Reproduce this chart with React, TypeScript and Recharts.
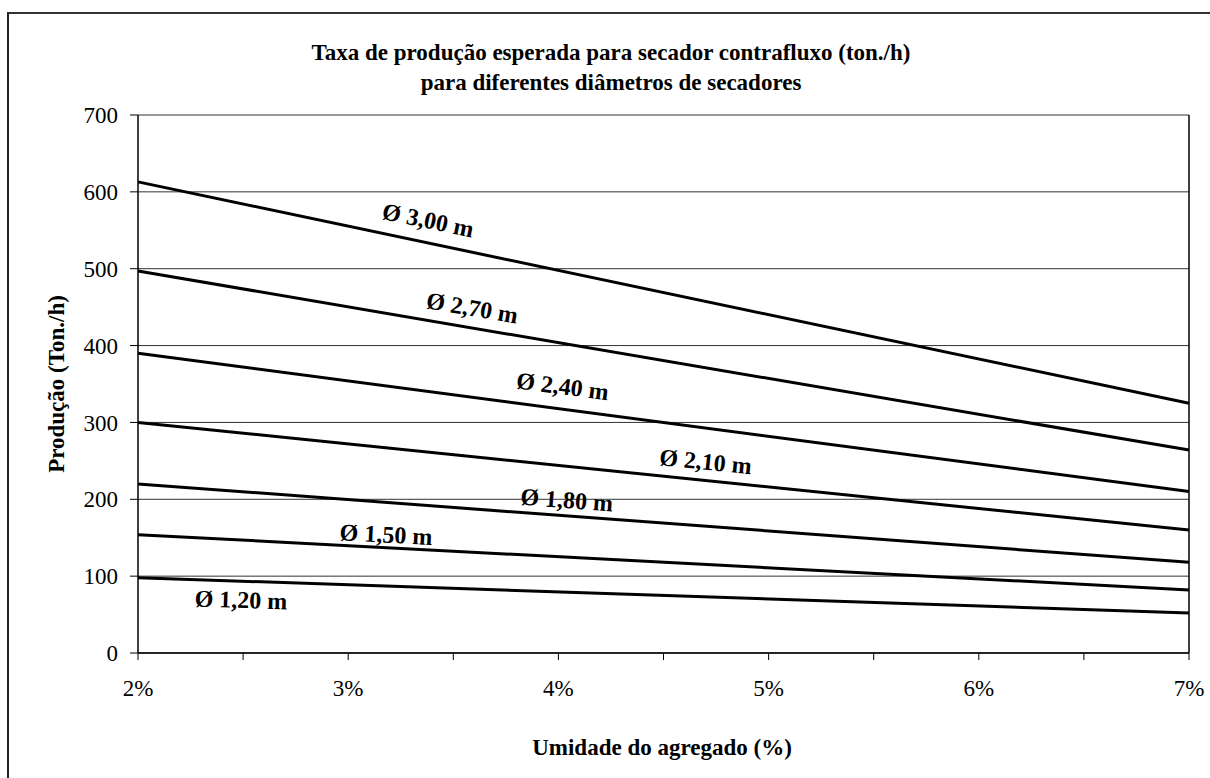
import { LineChart, Line, XAxis, YAxis, CartesianGrid, ReferenceLine, ReferenceDot } from "recharts";

// umidade do agregado (%)
const umidade = [2, 7];

// produção (ton./h) por diâmetro de secador
const d120 = [98, 52];
const d150 = [154, 82];
const d180 = [220, 118];
const d210 = [300, 160];
const d240 = [390, 210];
const d270 = [497, 264];
const d300 = [613, 325];

const xTicks = [2, 2.5, 3, 3.5, 4, 4.5, 5, 5.5, 6, 6.5, 7];
const yTicks = [0, 100, 200, 300, 400, 500, 600, 700];

const seriesKeys = ["d120", "d150", "d180", "d210", "d240", "d270", "d300"];

const data = umidade.map((u, i) => ({
  u,
  d120: d120[i],
  d150: d150[i],
  d180: d180[i],
  d210: d210[i],
  d240: d240[i],
  d270: d270[i],
  d300: d300[i],
}));

// rótulos sobre as linhas
const tags = [
  { text: "Ø 3,00 m", x: 3.38, y: 563, angle: 11.8 },
  { text: "Ø 2,70 m", x: 3.59, y: 449, angle: 9.7 },
  { text: "Ø 2,40 m", x: 4.02, y: 347, angle: 7.5 },
  { text: "Ø 2,10 m", x: 4.7, y: 249, angle: 5.8 },
  { text: "Ø 1,80 m", x: 4.04, y: 199, angle: 4.3 },
  { text: "Ø 1,50 m", x: 3.18, y: 154, angle: 3.0 },
  { text: "Ø 1,20 m", x: 2.49, y: 69, angle: 1.9 },
];

const serif = "Liberation Serif, DejaVu Serif, serif";

export default function App() {
  return (
    <div style={{ position: "relative", width: 1210, height: 778, overflow: "hidden", background: "#fff", fontFamily: serif }}>
      <style>{`body{margin:0}`}</style>

      {/* chart area border */}
      <div
        style={{
          position: "absolute",
          left: 7,
          top: 12,
          width: 1240,
          height: 800,
          borderLeft: "2px solid #222",
          borderTop: "2px solid #333",
        }}
      />

      {/* title */}
      <div
        style={{
          position: "absolute",
          left: 0,
          width: 1222,
          top: 38,
          textAlign: "center",
          fontWeight: "bold",
          fontSize: 23,
          lineHeight: "30px",
          color: "#000",
        }}
      >
        Taxa de produção esperada para secador contrafluxo (ton./h)
        <br />
        para diferentes diâmetros de secadores
      </div>

      {/* axis titles */}
      <div
        style={{
          position: "absolute",
          left: 362,
          width: 600,
          top: 735,
          lineHeight: "26px",
          textAlign: "center",
          fontWeight: "bold",
          fontSize: 23,
        }}
      >
        Umidade do agregado (%)
      </div>
      <div
        style={{
          position: "absolute",
          left: 57 - 150,
          top: 384 - 13,
          width: 300,
          height: 26,
          lineHeight: "26px",
          textAlign: "center",
          fontWeight: "bold",
          fontSize: 23,
          transform: "rotate(-90deg)",
        }}
      >
        Produção (Ton./h)
      </div>

      <div style={{ position: "absolute", left: 0, top: 0 }}>
        <LineChart width={1210} height={778} data={data} margin={{ top: 115, right: 21, bottom: 85, left: 0 }}>
          <CartesianGrid horizontal vertical={false} stroke="#333" strokeWidth={1} />
          <XAxis
            dataKey="u"
            type="number"
            domain={[2, 7]}
            ticks={xTicks}
            interval={0}
            height={40}
            tickSize={7}
            tickMargin={20}
            axisLine={{ stroke: "#000", strokeWidth: 1.5 }}
            tickLine={{ stroke: "#000" }}
            tick={{ fill: "#000", fontSize: 23, fontFamily: serif }}
            tickFormatter={(v: number) => (Number.isInteger(v) ? `${v}%` : "")}
          />
          <YAxis
            type="number"
            domain={[0, 700]}
            ticks={yTicks}
            interval={0}
            width={138}
            tickSize={8}
            tickMargin={12}
            axisLine={{ stroke: "#000", strokeWidth: 1.5 }}
            tickLine={{ stroke: "#000" }}
            tick={{ fill: "#000", fontSize: 23, fontFamily: serif }}
          />
          <ReferenceLine x={7} stroke="#000" strokeWidth={1.5} />
          {seriesKeys.map((k) => (
            <Line
              key={k}
              dataKey={k}
              type="linear"
              stroke="#000"
              strokeWidth={3}
              dot={false}
              activeDot={false}
              isAnimationActive={false}
            />
          ))}
          {tags.map((t) => (
            <ReferenceDot
              key={t.text}
              x={t.x}
              y={t.y}
              r={0}
              stroke="none"
              shape={(p: any) => (
                <text
                  x={p.cx}
                  y={p.cy}
                  textAnchor="middle"
                  dominantBaseline="central"
                  transform={`rotate(${t.angle}, ${p.cx}, ${p.cy})`}
                  fontFamily={serif}
                  fontWeight="bold"
                  fontSize={24}
                  fill="#000"
                >
                  {t.text}
                </text>
              )}
            />
          ))}
        </LineChart>
      </div>
    </div>
  );
}
